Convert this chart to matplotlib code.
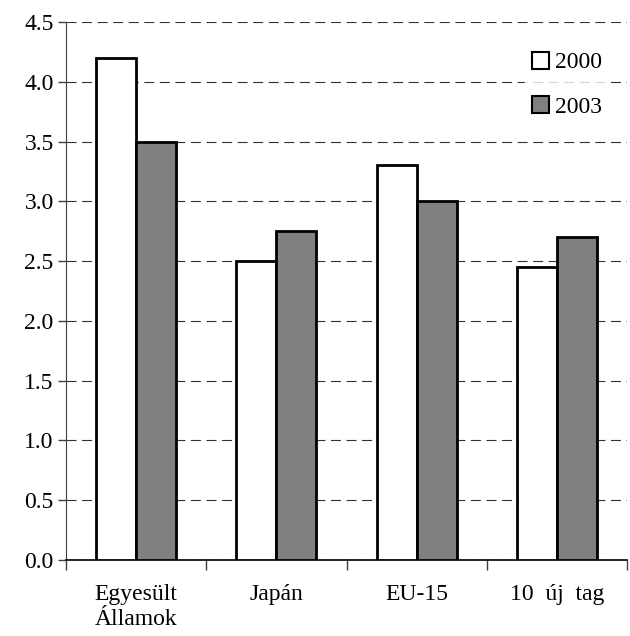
import numpy as np
import matplotlib
matplotlib.use("Agg")
import matplotlib.pyplot as plt

categories = ["Egyesült\nÁllamok", "Japán", "EU-15", "10  új  tag"]
values_2000 = [4.2, 2.5, 3.3, 2.45]
values_2003 = [3.5, 2.75, 3.0, 2.7]
series_labels = ["2000", "2003"]
yticks = [0.0, 0.5, 1.0, 1.5, 2.0, 2.5, 3.0, 3.5, 4.0, 4.5]

plt.rcParams['font.family'] = ['Liberation Serif', 'DejaVu Serif']

def main():
    fig = plt.figure(figsize=(6.3, 6.36), dpi=100)
    ax = fig.add_axes([0.105, 0.1195, 0.89, 0.846])

    x = np.arange(len(categories))
    w = 0.285
    ax.bar(x - w / 2, values_2000, w, color="white", edgecolor="black",
           linewidth=2, label=series_labels[0], zorder=3)
    ax.bar(x + w / 2, values_2003, w, color="#808080", edgecolor="black",
           linewidth=2, label=series_labels[1], zorder=3)

    ax.set_xlim(-0.5, len(categories) - 0.5)
    ax.set_ylim(0, 4.5)
    ax.set_yticks(yticks)
    ax.set_yticklabels([f"{v:.1f}" for v in yticks], fontsize=17)

    # category boundary ticks below the axis, labels centred on the groups
    ax.set_xticks(np.arange(len(categories) + 1) - 0.5)
    ax.set_xticklabels([])
    ax.set_xticks(x, minor=True)
    ax.set_xticklabels(categories, minor=True, fontsize=17, multialignment="left",
                       linespacing=1.3)
    ax.tick_params(axis="x", which="major", length=7, width=1, color="#404040")
    ax.tick_params(axis="x", which="minor", length=0, pad=17)
    ax.tick_params(axis="y", length=6, width=1, color="#404040", pad=3)

    ax.yaxis.grid(True, linestyle=(0, (9, 5)), color="#333333", linewidth=0.8, zorder=0)
    for s in ["top", "right"]:
        ax.spines[s].set_visible(False)
    ax.spines["left"].set_color("#404040")
    ax.spines["bottom"].set_color("black")
    ax.spines["bottom"].set_linewidth(1.2)

    leg = ax.legend(loc="upper right", bbox_to_anchor=(0.99, 0.98), frameon=True,
                    fontsize=17, handlelength=0.75, handleheight=0.75,
                    handletextpad=0.25, labelspacing=0.95, borderpad=0.3)
    leg.get_frame().set_facecolor("white")
    leg.get_frame().set_edgecolor("white")
    for h in leg.legend_handles:
        h.set_linewidth(1.5)

    fig.savefig("out.png", dpi=100)

if __name__ == "__main__":
    main()
